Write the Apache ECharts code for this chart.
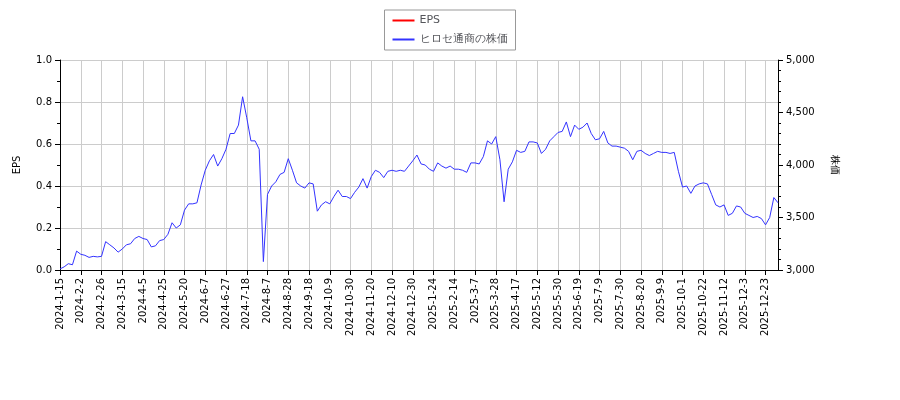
<!DOCTYPE html><html><head><meta charset="utf-8"><script src="https://cdn.jsdelivr.net/npm/echarts@6/dist/echarts.min.js"></script></head><body style="margin:0"><div id="c" style="width:900px;height:400px"></div><script>
const tickLabels=['2024-1-15','2024-2-2','2024-2-26','2024-3-15','2024-4-5','2024-4-25','2024-5-20','2024-6-7','2024-6-27','2024-7-18','2024-8-7','2024-8-28','2024-9-18','2024-10-9','2024-10-30','2024-11-20','2024-12-10','2024-12-30','2025-1-24','2025-2-14','2025-3-7','2025-3-28','2025-4-17','2025-5-12','2025-5-30','2025-6-19','2025-7-9','2025-7-30','2025-8-20','2025-9-9','2025-10-1','2025-10-22','2025-11-12','2025-12-3','2025-12-23'];
const price=[3010,3030,3060,3050,3180,3150,3140,3120,3130,3125,3130,3270,3240,3210,3170,3200,3240,3250,3300,3320,3300,3290,3220,3230,3280,3290,3340,3450,3400,3430,3570,3630,3630,3640,3810,3950,4040,4100,3990,4060,4150,4300,4300,4380,4650,4450,4230,4230,4150,3080,3720,3800,3840,3910,3930,4060,3950,3830,3800,3780,3830,3820,3560,3620,3650,3630,3700,3760,3700,3700,3680,3740,3790,3870,3780,3890,3950,3930,3880,3940,3950,3940,3950,3940,3990,4040,4095,4010,4000,3960,3940,4020,3990,3970,3990,3960,3960,3950,3930,4020,4020,4010,4080,4230,4200,4270,4050,3650,3960,4030,4140,4120,4130,4220,4220,4210,4110,4150,4230,4270,4310,4320,4410,4270,4380,4340,4360,4400,4300,4240,4250,4320,4210,4180,4180,4170,4160,4130,4050,4130,4140,4110,4090,4110,4130,4120,4120,4110,4120,3940,3790,3800,3730,3800,3820,3830,3820,3720,3620,3600,3620,3520,3540,3610,3600,3540,3520,3500,3510,3490,3430,3500,3690,3640];
const eps=[];
const cats=price.map((v,i)=>i%5===0&&tickLabels[i/5]?tickLabels[i/5]:'d'+i);
const ch=echarts.init(document.getElementById('c'));
const ax={color:'#000',fontSize:10,fontFamily:'DejaVu Sans'};
ch.setOption({animation:false,
legend:{top:10,left:'center',orient:'vertical',borderColor:'#999',borderWidth:1,borderRadius:0,padding:[5,8],itemWidth:22,itemHeight:2,textStyle:{fontSize:11,fontFamily:'DejaVu Sans'},data:[{name:'EPS',icon:'rect'},{name:'ヒロセ通商の株価',icon:'rect'}]},
grid:{left:60,right:122,top:60,bottom:130},
xAxis:{type:'category',data:cats,boundaryGap:false,axisLine:{lineStyle:{color:'#000'}},axisTick:{interval:4,lineStyle:{color:'#000'}},axisLabel:{...ax,interval:4,rotate:90},splitLine:{show:true,interval:4,lineStyle:{color:'#ccc'}}},
yAxis:[{type:'value',min:0,max:1,interval:0.2,name:'EPS',nameLocation:'middle',nameGap:38,nameTextStyle:ax,axisLine:{show:true,lineStyle:{color:'#000'}},axisTick:{show:true},minorTick:{show:true,splitNumber:2,lineStyle:{color:'#000'}},axisLabel:{...ax,formatter:v=>v.toFixed(1)},splitLine:{lineStyle:{color:'#ccc'}}},
{type:'value',min:3000,max:5000,interval:500,name:'株価',nameLocation:'middle',nameGap:52,nameRotate:-90,nameTextStyle:ax,axisLine:{show:true,lineStyle:{color:'#000'}},axisTick:{show:true},minorTick:{show:true,splitNumber:5,lineStyle:{color:'#000'}},axisLabel:ax,splitLine:{show:false}}],
series:[{name:'EPS',type:'line',data:eps,color:'#ff0000',symbol:'none'},
{name:'ヒロセ通商の株価',type:'line',yAxisIndex:1,data:price,color:'#3333ff',symbol:'none',lineStyle:{width:1}}]});
</script></body></html>
